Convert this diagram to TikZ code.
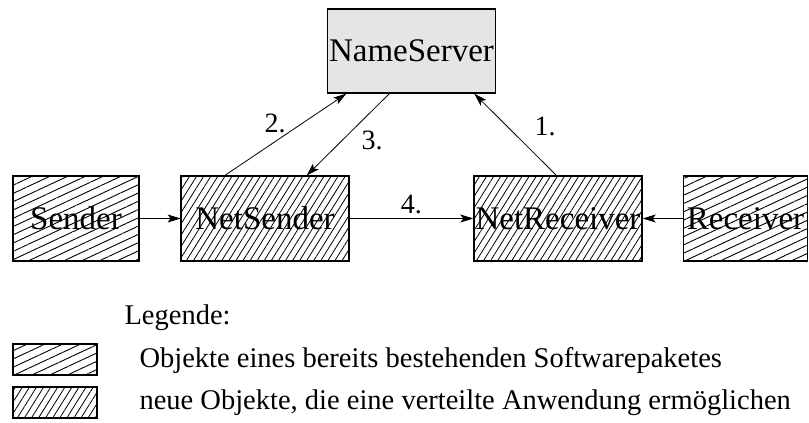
\documentclass[tikz,border=0pt]{standalone}
\usepackage{fontspec}
\setmainfont{Liberation Serif}
\usetikzlibrary{arrows.meta,patterns.meta,calc}

\tikzset{
  box/.style={draw=black, line width=1.4pt, rectangle, inner sep=0pt,
              font=\fontsize{33}{36}\selectfont},
  oldpkg/.style={box, pattern={Lines[angle=25,distance=7.5pt,line width=0.9pt]}},
  newobj/.style={box, pattern={Lines[angle=58,distance=6pt,line width=0.8pt]}},
  server/.style={box, fill=black!10},
  msg/.style={draw=black, line width=0.8pt, -{Stealth[length=13pt,width=8pt,inset=3pt]}},
  lbl/.style={font=\fontsize{28}{30}\selectfont},
  legtext/.style={font=\fontsize{28.5}{30}\selectfont, anchor=west}
}

\begin{document}
\begin{tikzpicture}[x=1pt,y=-1pt]
  \useasboundingbox (0,0) rectangle (809,423);

  % components
  \node[server, minimum width=168pt, minimum height=84pt] (ns) at (411.5,51) {NameServer};
  \node[oldpkg, minimum width=126pt, minimum height=85pt] (snd) at (76,218.5) {Sender};
  \node[newobj, minimum width=168pt, minimum height=85pt] (nsnd) at (265,218.5) {NetSender};
  \node[newobj, minimum width=168pt, minimum height=85pt] (nrcv) at (558,218.5) {NetReceiver};
  \node[oldpkg, minimum width=124pt, minimum height=85pt] (rcv) at (745.5,218.5) {Receiver};

  % attachment points on the box borders
  \coordinate (ns2) at ($(ns.south west)+(19.5,0)$);
  \coordinate (ns3) at ($(ns.south west)+(62.5,0)$);
  \coordinate (ns1) at ($(ns.south west)+(147.5,0)$);
  \coordinate (nsnd2) at ($(nsnd.north west)+(44,0)$);
  \coordinate (nsnd3) at ($(nsnd.north west)+(126,0)$);
  \coordinate (nrcv1) at ($(nrcv.north west)+(83,0)$);

  % messages
  \draw[msg] (snd.east) -- (nsnd.west);
  \draw[msg] (nsnd.east) -- node[lbl, above=1pt] (l4) {4.} (nrcv.west);
  \draw[msg] (rcv.west) -- (nrcv.east);
  \draw[msg] (nsnd2) -- (ns2);
  \draw[msg] (ns3) -- (nsnd3);
  \draw[msg] (nrcv1) -- (ns1);
  \node[lbl] (l2) at (275,123) {2.};
  \node[lbl] (l3) at (372,140) {3.};
  \node[lbl] (l1) at (545,126) {1.};

  % legend
  \node[legtext] (leg) at (121,318) {Legende:};
  \node[oldpkg, minimum width=84pt, minimum height=31pt] (k1) at (55,359.5) {};
  \node[newobj, minimum width=84pt, minimum height=31pt] (k2) at (55,402.5) {};
  \node[legtext] (t1) at (136,360) {Objekte eines bereits bestehenden Softwarepaketes};
  \node[legtext] (t2) at (136,403) {neue Objekte, die eine verteilte Anwendung ermöglichen};
\end{tikzpicture}
\end{document}
